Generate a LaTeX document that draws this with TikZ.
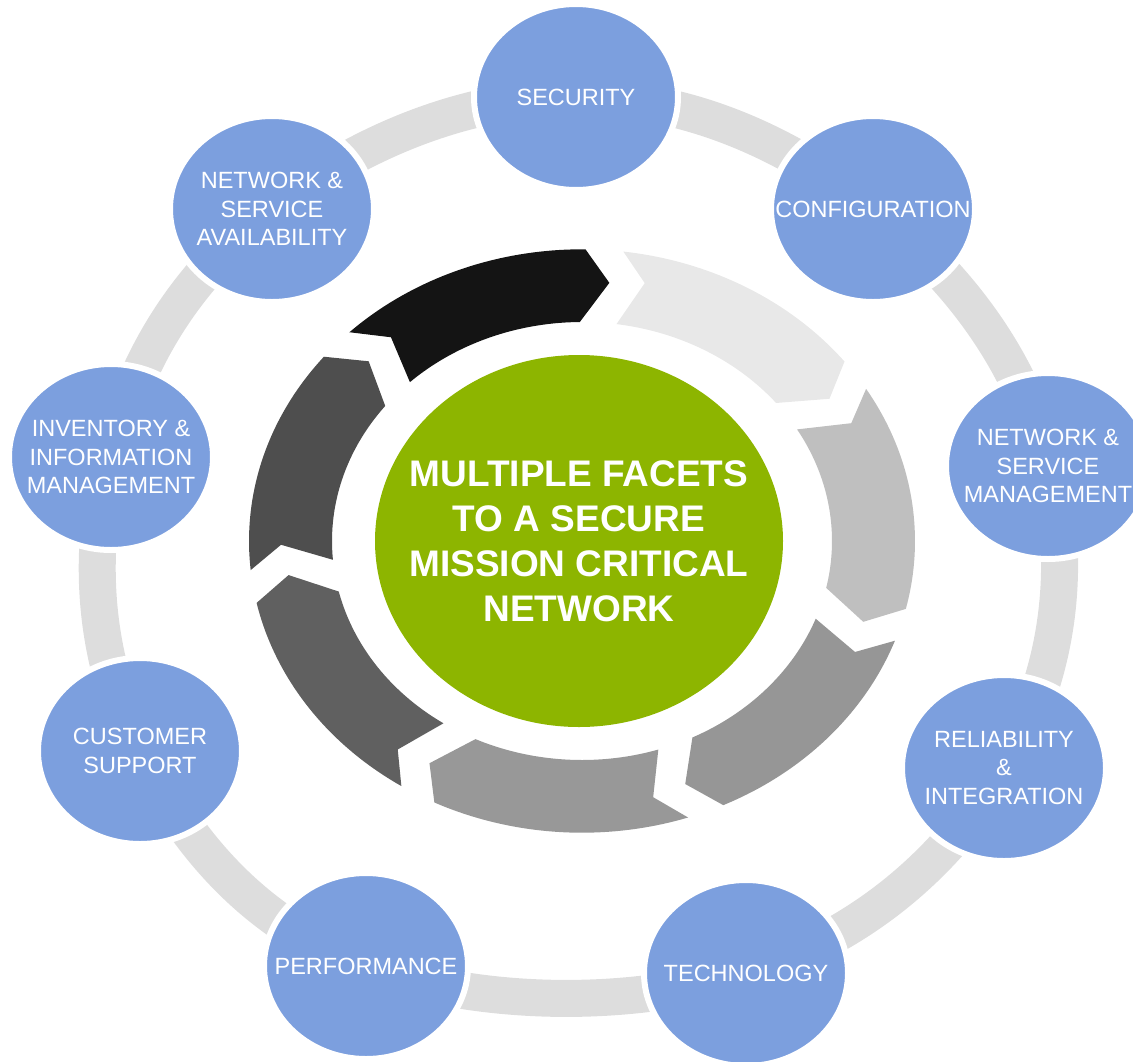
\documentclass[tikz,border=0pt]{standalone}
\usepackage{fontspec}
\setmainfont{Liberation Sans}
\usetikzlibrary{shapes.geometric}
\definecolor{blueC}{RGB}{124,159,222}
\definecolor{greenC}{RGB}{141,181,0}
\definecolor{bandC}{RGB}{221,221,221}
\definecolor{segA}{RGB}{20,20,20}
\definecolor{segB}{RGB}{232,232,232}
\definecolor{segC}{RGB}{191,191,191}
\definecolor{segD}{RGB}{150,150,150}
\definecolor{segE}{RGB}{152,152,152}
\definecolor{segF}{RGB}{96,96,96}
\definecolor{segG}{RGB}{78,78,78}
\begin{document}
\begin{tikzpicture}[x=1pt,y=-1pt,
  facet/.style={ellipse, fill=blueC, draw=white, line width=6pt,
    minimum width=204pt, minimum height=186pt, inner sep=0pt},
  ftext/.style={text=white, font=\fontsize{23.5}{28.5}\selectfont, align=center, inner sep=0pt},
  ctext/.style={text=white, font=\fontsize{37}{45}\selectfont\bfseries, align=center, inner sep=0pt},
  band/.style={draw=bandC, line width=37pt}]
\useasboundingbox (0,0) rectangle (1133,1061);
% centres of the outer facets
\coordinate (cSec)  at (576,97);
\coordinate (cConf) at (873,209);
\coordinate (cNsm)  at (1048,466);
\coordinate (cRel)  at (1004,768);
\coordinate (cTech) at (746,973);
\coordinate (cPerf) at (366,966);
\coordinate (cCust) at (140,751);
\coordinate (cInv)  at (111,457);
\coordinate (cNsa)  at (272,209);
\coordinate (cyc)   at (582,541);
% grey ring linking the facets
\draw[band] (cSec) .. controls +(110,0) and +(-86.4,-67.5) .. (cConf)
  .. controls +(86.4,67.5) and +(-24,-102.3) .. (cNsm)
  .. controls +(24,102.3) and +(55.3,-92.8) .. (cRel)
  .. controls +(-55.3,92.8) and +(116.8,-36.2) .. (cTech)
  .. controls +(-116.8,36.2) and +(110.9,40.6) .. (cPerf)
  .. controls +(-110.9,-40.6) and +(46.7,93.1) .. (cCust)
  .. controls +(-46.7,-93.1) and +(-24.2,99.2) .. (cInv)
  .. controls +(24.2,-99.2) and +(-85.1,65.9) .. (cNsa)
  .. controls +(85.1,-65.9) and +(-110,0) .. (cSec);
% circular arrow segments
\begin{scope}[shift={(cyc)}, x=1pt, y=0.876pt]
\foreach \k/\col in {0/segA,1/segB,2/segC,3/segD,4/segE,5/segF,6/segG} {
  \pgfmathsetmacro\angT{134.3-51.43*\k}
  \pgfmathsetmacro\angH{\angT-44.9}
  \pgfmathsetmacro\angP{\angH-4.7}
  \pgfmathsetmacro\angHi{\angH+1.1}
  \pgfmathsetmacro\angTi{\angT-0.8}
  \pgfmathsetmacro\angN{\angT-4.9}
  \fill[fill=\col] plot[domain=\angT:\angH, samples=40] (\x:333)
    -- (\angP:296) -- (\angHi:250)
    -- plot[domain=\angHi:\angTi, samples=40] (\x:250)
    -- (\angN:301) -- cycle;
}
\end{scope}
% hub
\node[ellipse, fill=greenC, minimum width=408pt, minimum height=372pt, inner sep=0pt,
  label={[ctext]center:{MULTIPLE FACETS\\TO A SECURE\\MISSION CRITICAL\\NETWORK}}] (hub) at (579,541) {};
% facets
\node[facet, label={[ftext]center:SECURITY}] (security) at (cSec) {};
\node[facet, label={[ftext]center:CONFIGURATION}] (config) at (cConf) {};
\node[facet, label={[ftext]center:{NETWORK \&\\SERVICE\\MANAGEMENT}}] (nsm) at (cNsm) {};
\node[facet, label={[ftext]center:{RELIABILITY\\\&\\INTEGRATION}}] (rel) at (cRel) {};
\node[facet, label={[ftext]center:TECHNOLOGY}] (tech) at (cTech) {};
\node[facet, label={[ftext]center:PERFORMANCE}] (perf) at (cPerf) {};
\node[facet, label={[ftext]center:{CUSTOMER\\SUPPORT}}] (cust) at (cCust) {};
\node[facet, label={[ftext]center:{INVENTORY \&\\INFORMATION\\MANAGEMENT}}] (inv) at (cInv) {};
\node[facet, label={[ftext]center:{NETWORK \&\\SERVICE\\AVAILABILITY}}] (nsa) at (cNsa) {};
\end{tikzpicture}
\end{document}
